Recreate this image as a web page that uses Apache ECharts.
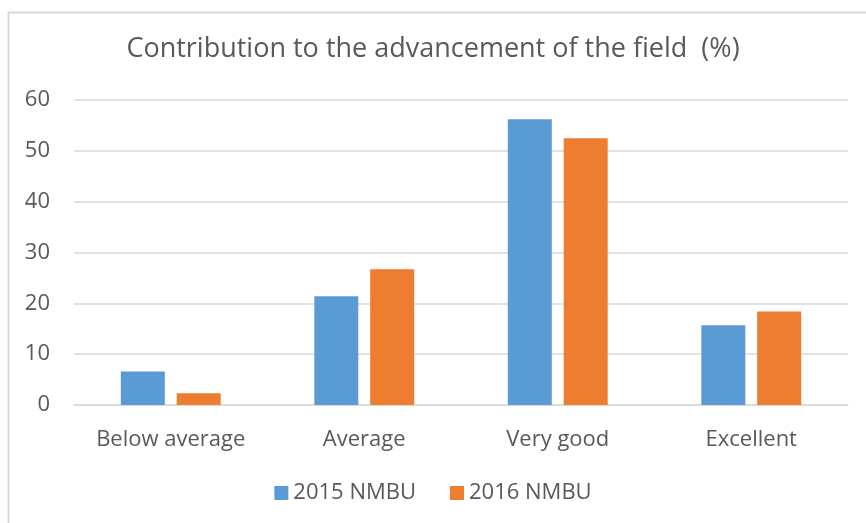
<!DOCTYPE html>
<html><head><meta charset="utf-8">
<script src="https://cdn.jsdelivr.net/npm/echarts@6/dist/echarts.min.js"></script>
<style>html,body{margin:0;padding:0;background:#fff}#c{width:866px;height:523px}</style>
</head><body><div id="c"></div>
<script>
const categories = ['Below average', 'Average', 'Very good', 'Excellent'];
const series2015 = [6.6, 21.4, 56.2, 15.7];
const series2016 = [2.3, 26.7, 52.5, 18.4];
const seriesNames = ['2015 NMBU', '2016 NMBU'];
const titleText = 'Contribution to the advancement of the field  (%)';

const chart = echarts.init(document.getElementById('c'));
const font = 'Open Sans';
chart.setOption({
  animation: false,
  backgroundColor: '#fff',
  graphic: [{
    type: 'rect', left: 6, top: 10, shape: {width: 900, height: 600},
    style: {fill: 'none', stroke: '#d9d9d9', lineWidth: 2}, silent: true
  }],
  title: {
    text: titleText, left: 'center', top: 31,
    textStyle: {fontFamily: font, fontSize: 27, fontWeight: 'normal', color: '#595959'}
  },
  legend: {
    data: seriesNames, bottom: 14, left: 'center',
    itemWidth: 14, itemHeight: 14, itemGap: 34, icon: 'rect',
    textStyle: {fontFamily: font, fontSize: 22, color: '#595959'}
  },
  grid: {left: 74, right: 18, top: 100, bottom: 118},
  xAxis: {
    type: 'category', data: categories,
    axisLine: {lineStyle: {color: '#d9d9d9', width: 1.5}},
    axisTick: {show: false},
    axisLabel: {interval: 0, fontFamily: font, fontSize: 22, color: '#595959', margin: 24}
  },
  yAxis: {
    type: 'value', min: 0, max: 60, interval: 10,
    axisLine: {show: false}, axisTick: {show: false},
    splitLine: {lineStyle: {color: '#d9d9d9', width: 1.5}},
    axisLabel: {fontFamily: font, fontSize: 22, color: '#595959', margin: 24}
  },
  series: [
    {name: seriesNames[0], type: 'bar', data: series2015, barWidth: 44, barGap: '27%',
     itemStyle: {color: '#5B9BD5'}},
    {name: seriesNames[1], type: 'bar', data: series2016, barWidth: 44, barGap: '27%',
     itemStyle: {color: '#ED7D31'}}
  ]
});
</script></body></html>
